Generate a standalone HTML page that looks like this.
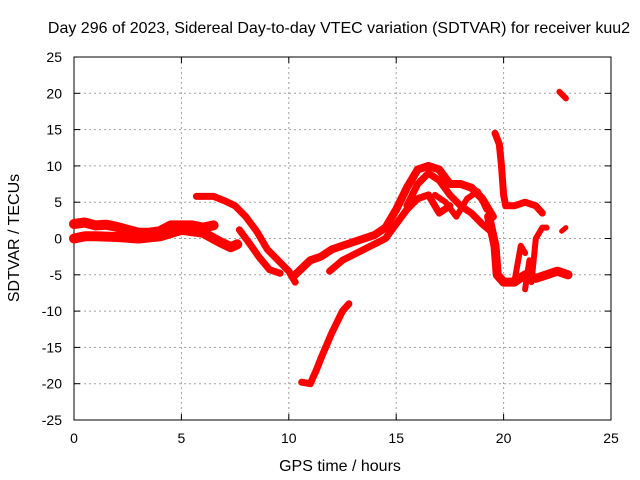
<!DOCTYPE html>
<html><head><meta charset="utf-8"><style>
body{margin:0;background:#fff}
svg{display:block;font-family:"Liberation Sans",sans-serif}
</style></head><body>
<svg width="640" height="480">
<rect width="640" height="480" fill="#fff"/>
<text x="339" y="33" font-size="16" text-anchor="middle">Day 296 of 2023, Sidereal Day-to-day VTEC variation (SDTVAR) for receiver kuu2</text>
<text x="340" y="471" font-size="16" text-anchor="middle">GPS time / hours</text>
<text transform="translate(19,238) rotate(-90)" font-size="16" text-anchor="middle">SDTVAR / TECUs</text>
<g id="grid"></g>
<g id="axes"></g>
<g id="series"></g>
</svg>
<script>
const xTicks=[0,5,10,15,20,25];
const yTicks=[-25,-20,-15,-10,-5,0,5,10,15,20,25];
const segBandUpperH=[0,0.5,1,1.5,2,2.5,3,3.5,4,4.5,5,5.5,6,6.5];
const segBandUpperV=[2,2.2,1.8,1.9,1.6,1.2,0.8,0.8,1.0,1.8,1.8,1.8,1.5,1.8];
const segBandLowerH=[0,0.5,1,2,3,4,5,6,6.8,7.3,7.6];
const segBandLowerV=[0,0.3,0.3,0.2,0,0.3,1.2,0.8,-0.5,-1.2,-0.8];
const segDropH=[5.7,6.5,7,7.5,8,8.5,9,9.5,10,10.3];
const segDropV=[5.8,5.8,5.2,4.5,3,1,-1.5,-3,-4.5,-6];
const segDrop2H=[7.7,8.2,8.6,9.1,9.6];
const segDrop2V=[1.2,-0.8,-2.5,-4.3,-4.8];
const segRiseH=[10.3,11,11.5,12,13,14,14.5,15,15.5,16,16.5,17,17.5,18,18.5,19,19.5];
const segRiseV=[-5,-3,-2.5,-1.5,-0.5,0.5,1.5,4,7,9.5,10,9.5,7.5,7.5,7,5.5,3];
const segRise2H=[11.9,12.5,13.5,14.5,15,15.5,16,16.5,17,17.5];
const segRise2V=[-4.5,-3,-1.5,0,2,4,5.5,6,3.5,4.5];
const segArcH=[15.5,16,16.5,17,17.5,18,18.5,19,19.4];
const segArcV=[4.5,7.5,9,8,6,4.5,3.5,2,1];
const segCrossH=[16.8,17.3,17.8,18.3,18.8,19.2];
const segCrossV=[6,5,3,5.5,6.5,4];
const segDeepH=[10.6,11,11.3,11.5,12,12.5,12.8];
const segDeepV=[-19.8,-20,-18,-16.5,-13,-10,-9];
const segSpikeH=[19.6,19.8,19.9,20,20.1,20.5,21,21.5,21.8];
const segSpikeV=[14.5,13,10,6,4.5,4.5,5,4.5,3.5];
const segTailH=[19.3,19.6,19.7,20,20.5,21,21.5,22,22.5,23];
const segTailV=[3,-1,-5,-6,-6,-5,-5.5,-5,-4.5,-5];
const segWisp1H=[20.5,20.8,21];
const segWisp1V=[-6,-1,-2];
const segWisp2H=[21.3,21.5,21.8,22];
const segWisp2V=[-6,0,1.5,1.5];
const segWisp3H=[21,21.2];
const segWisp3V=[-7,-3];
const segTopH=[22.6,22.9];
const segTopV=[20.2,19.3];
const segSmallH=[22.7,22.9];
const segSmallV=[1,1.5];

const X0=74,X1=611,Y0=420,Y1=57;
const sx=h=>X0+(h-0)/25*(X1-X0);
const sy=v=>Y0-(v+25)/50*(Y0-Y1);
const NS="http://www.w3.org/2000/svg";
const grid=document.getElementById('grid'),axes=document.getElementById('axes'),ser=document.getElementById('series');
function mk(t,a,p){const e=document.createElementNS(NS,t);for(const k in a)e.setAttribute(k,a[k]);p.appendChild(e);return e;}
xTicks.forEach(t=>{
 const x=sx(t);
 if(t>0&&t<25){const g=mk('line',{x1:x,y1:Y1,x2:x,y2:Y0,stroke:'#a0a0a0','stroke-dasharray':'2,3'},grid);
 
 }
 mk('line',{x1:x,y1:Y0,x2:x,y2:Y0-6,stroke:'#000'},axes);
 mk('line',{x1:x,y1:Y1,x2:x,y2:Y1+6,stroke:'#000'},axes);
 const l=mk('text',{x:x,y:Y0+23,'font-size':14,'text-anchor':'middle'},axes);l.textContent=t;
 
 
});
yTicks.forEach(t=>{
 const y=sy(t);
 if(t>-25&&t<25){const g=mk('line',{x1:X0,y1:y,x2:X1,y2:y,stroke:'#a0a0a0','stroke-dasharray':'2,3'},grid);
 
 }
 mk('line',{x1:X0,y1:y,x2:X0+6,y2:y,stroke:'#000'},axes);
 mk('line',{x1:X1,y1:y,x2:X1-6,y2:y,stroke:'#000'},axes);
 const l=mk('text',{x:X0-12,y:y+5,'font-size':14,'text-anchor':'end'},axes);l.textContent=t;
 
 
});
mk('rect',{x:X0,y:Y1,width:X1-X0,height:Y0-Y1,fill:'none',stroke:'#000'},axes);
const segs=[[segBandUpperH,segBandUpperV,10],[segBandLowerH,segBandLowerV,10],[segDropH,segDropV,7],[segDrop2H,segDrop2V,7],[segRiseH,segRiseV,8],[segRise2H,segRise2V,7],[segArcH,segArcV,7],[segCrossH,segCrossV,6],[segDeepH,segDeepV,7],[segSpikeH,segSpikeV,7],[segTailH,segTailV,9],[segWisp1H,segWisp1V,6],[segWisp2H,segWisp2V,6],[segWisp3H,segWisp3V,6],[segTopH,segTopV,6],[segSmallH,segSmallV,5]];
segs.forEach(([hs,vs,w])=>{
 const pts=hs.map((h,i)=>sx(h).toFixed(1)+','+sy(vs[i]).toFixed(1)).join(' ');
 const p=mk('polyline',{points:pts,fill:'none',stroke:'#ff0000','stroke-width':w,'stroke-linejoin':'round','stroke-linecap':'round'},ser);
 
 
});
</script>
</body></html>
